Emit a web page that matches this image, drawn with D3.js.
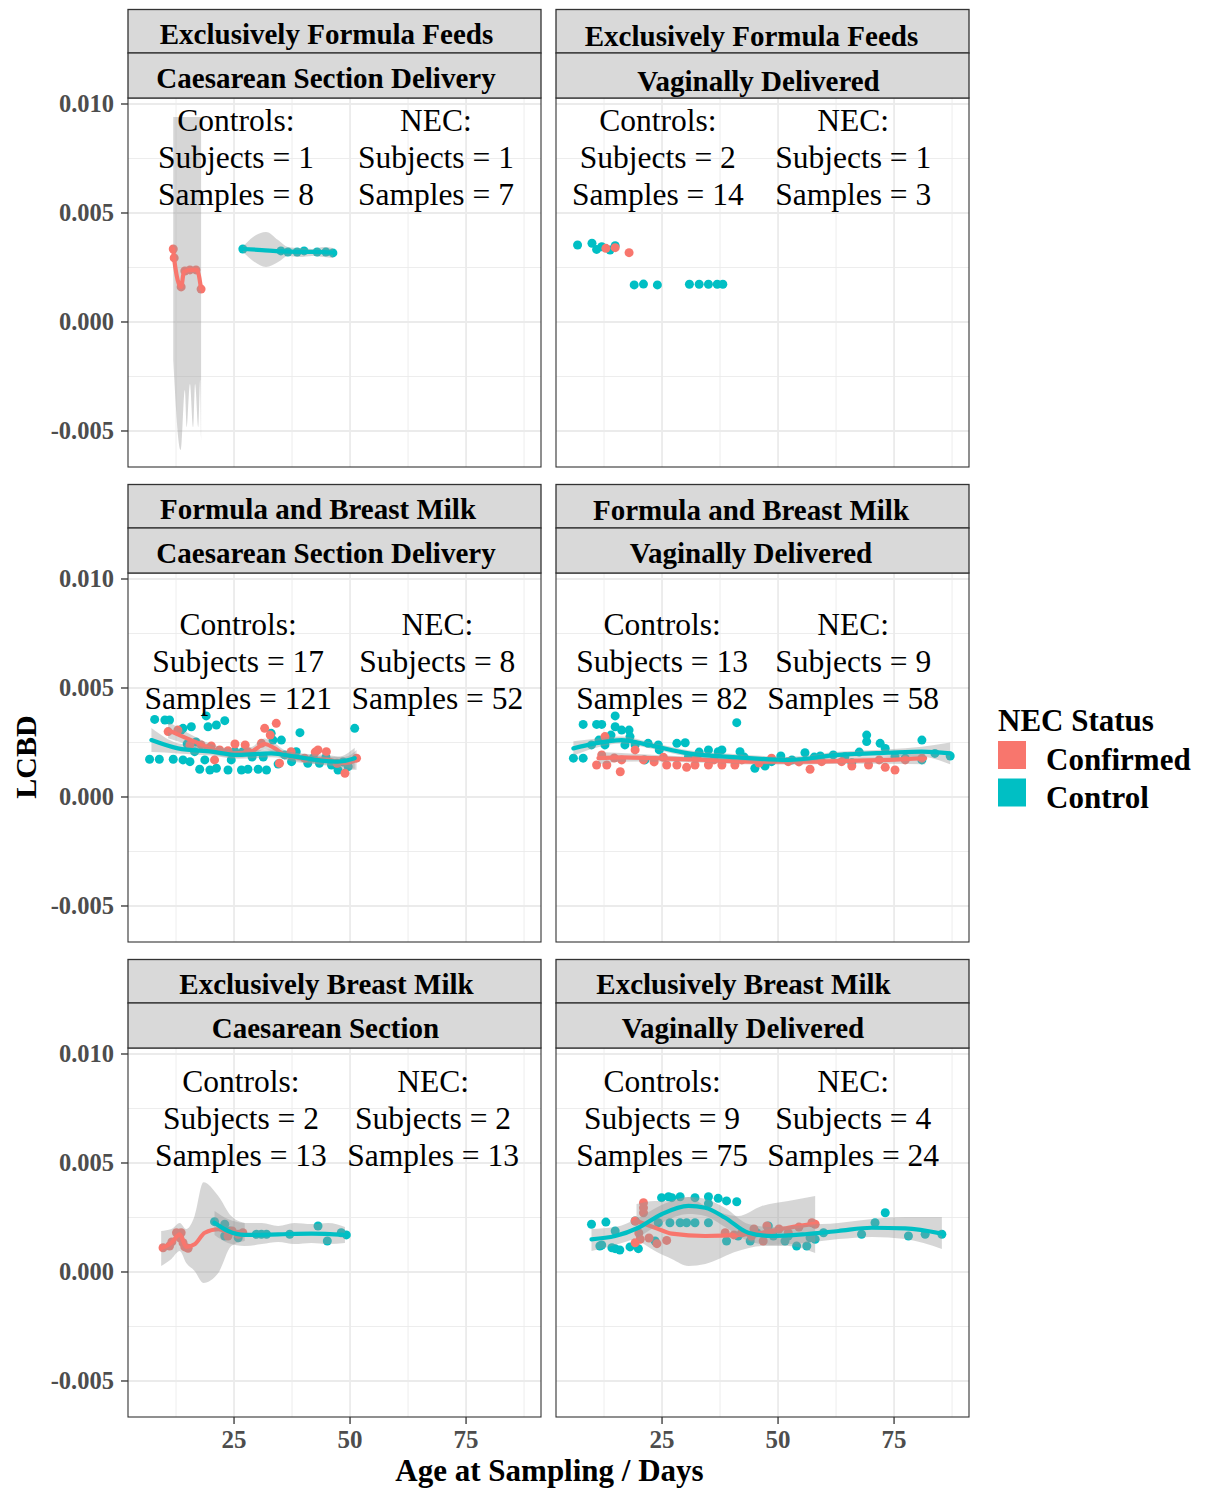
<!DOCTYPE html>
<html><head><meta charset="utf-8">
<script src="https://cdn.jsdelivr.net/npm/d3@7"></script>
<style>body{margin:0;background:#fff} text{font-family:"Liberation Serif","Times New Roman",serif}</style>
</head><body><svg id="c" width="1205" height="1490"></svg>
<script>
// ---------------- DATA ----------------
const feedTypes = ["Exclusively Formula Feeds","Formula and Breast Milk","Exclusively Breast Milk"];
const deliveryLabels = [["Caesarean Section Delivery","Vaginally Delivered"],["Caesarean Section Delivery","Vaginally Delivered"],["Caesarean Section","Vaginally Delivered"]];
const statusLabels = ["Confirmed","Control"];
const controlSubjects = [1,2,17,13,2,9];
const controlSamples  = [8,14,121,82,13,75];
const necSubjects     = [1,1,8,9,2,4];
const necSamples      = [7,3,52,58,13,24];
const xTicks = [25,50,75];
const yTicks = [-0.005,0,0.005,0.010];
const yTickLabels = ["-0.005","0.000","0.005","0.010"];

// Panel 1: Exclusively Formula Feeds / Caesarean
const pts1Nec = [[11.9,.00335],[12.1,.00294],[13.6,.00161],[14.4,.00234],[15.5,.00239],[16.8,.00239],[17.9,.00151]];
const pts1Ctrl = [[26.9,.00335],[35.1,.00326],[36.6,.00321],[38.6,.00321],[40.1,.00326],[42.9,.00321],[44.8,.00321],[46.3,.00317]];
const fit1Nec = [[11.9,.00335],[12.1,.00289],[13.6,.00161],[14.2,.00229],[15.5,.00239],[17.0,.00239],[17.9,.00151]];
const band1Nec = [[11.9,-.00174,.0094],[13.5,-.00587,.0094],[14.4,-.00312,.0094],[14.8,-.00482,.0094],[15.5,-.00284,.0094],[16.2,-.00482,.0094],[16.6,-.00284,.0094],[17.3,-.00482,.0094],[17.7,-.00266,.0094],[17.9,-.00541,.0094]];
const fit1Ctrl = [[26.9,.00335],[31.0,.00330],[35.1,.00324],[38.6,.00322],[42.9,.00322],[46.3,.00318]];
const band1Ctrl = [[26.9,.00322,.00345],[29.1,.00280,.00390],[31.9,.00252,.00413],[34.5,.00275,.00376],[36.6,.00303,.00344],[39.2,.00298,.00339],[41.8,.00303,.00335],[44.4,.00298,.00344],[46.3,.00294,.00339]];

// Panel 2: Exclusively Formula Feeds / Vaginal
const pts2Ctrl = [[6.8,.00353],[9.9,.00361],[10.9,.00333],[12.0,.00345],[13.8,.00330],[14.9,.00350],[19.0,.00170],[21.0,.00174],[24.0,.00170],[30.9,.00173],[33.0,.00173],[35.0,.00173],[36.9,.00173],[38.1,.00173]];
const pts2Nec = [[12.9,.00338],[14.9,.00341],[17.9,.00318]];

// Panel 3: Formula and Breast Milk / Caesarean
const pts3Ctrl = [[7.9,.00356],[10.1,.00353],[11.1,.00353],[19.0,.00372],[23.0,.00350],[21.2,.00330],[19.4,.00322],[15.8,.00322],[14.0,.00315],[13.6,.00307],[6.8,.00173],[8.9,.00173],[11.9,.00173],[14.0,.00170],[15.5,.00162],[17.6,.00127],[19.8,.00124],[21.2,.00132],[18.7,.00170],[23.7,.00124],[24.4,.00170],[26.6,.00124],[28.0,.00127],[26.9,.00208],[25.2,.00208],[30.2,.00127],[32.0,.00124],[33.4,.00261],[35.2,.00261],[33.0,.00292],[39.2,.00295],[37.4,.00162],[35.9,.00193],[40.9,.00155],[43.4,.00155],[46.0,.00147],[47.4,.00124],[51.0,.00315],[49.6,.00139],[38.4,.00208],[16.5,.00208],[23.7,.00208],[14.9,.00243],[16.8,.00252],[28.9,.00183],[31.3,.00183],[42.1,.00179],[44.8,.00183],[48.5,.00161],[34.5,.00151]];
const pts3Nec = [[10.8,.00300],[12.9,.00307],[17.9,.00239],[20.1,.00234],[21.9,.00216],[25.2,.00243],[31.6,.00315],[34.1,.00338],[34.8,.00155],[20.8,.00170],[43.1,.00216],[44.9,.00208],[48.9,.00109],[51.4,.00178],[47.2,.00155],[30.9,.00246],[28.0,.00208],[23.7,.00212],[19.4,.00223],[40.2,.00178],[37.3,.00208],[15.5,.00239],[27.4,.00239],[32.8,.00284],[42.5,.00206]];
const fit3Nec = [[10.8,.00307],[16.5,.00254],[20.8,.00216],[25.1,.00200],[28.7,.00208],[31.6,.00243],[33.8,.00223],[35.9,.00193],[39.5,.00178],[45.3,.00170],[48.9,.00155],[51.4,.00170]];
const band3Nec = [[10.8,.00270,.00345],[16.5,.00230,.00278],[20.8,.00195,.00237],[25.1,.00180,.00220],[28.7,.00187,.00229],[31.6,.00218,.00268],[33.8,.00200,.00246],[35.9,.00172,.00214],[39.5,.00157,.00199],[45.3,.00148,.00192],[48.9,.00126,.00184],[51.4,.00125,.00215]];
const fit3Ctrl = [[7.2,.00261],[12.9,.00223],[20.1,.00208],[25.9,.00193],[33.0,.00200],[38.1,.00185],[43.8,.00167],[47.4,.00162],[51.0,.00178]];
const band3Ctrl = [[7.2,.00206,.00316],[12.9,.00200,.00246],[20.1,.00190,.00226],[25.9,.00175,.00211],[33.0,.00182,.00218],[38.1,.00167,.00203],[43.8,.00147,.00187],[47.4,.00140,.00184],[51.0,.00130,.00226]];

// Panel 4: Formula and Breast Milk / Vaginal
const pts4Ctrl = [[5.9,.00178],[8.0,.00178],[8.0,.00333],[10.9,.00333],[12.0,.00333],[14.9,.00372],[14.9,.00322],[16.3,.00307],[17.9,.00307],[18.1,.00277],[9.8,.00239],[12.7,.00239],[17.0,.00239],[19.2,.00239],[21.3,.00170],[22.0,.00246],[24.2,.00239],[28.2,.00246],[30.0,.00249],[30.7,.00185],[35.0,.00216],[37.1,.00208],[37.9,.00216],[41.1,.00341],[41.8,.00208],[45.0,.00132],[47.2,.00142],[48.6,.00162],[53.0,.00170],[55.8,.00203],[59.1,.00188],[61.9,.00193],[64.4,.00185],[65.9,.00157],[69.1,.00284],[69.1,.00254],[72.0,.00246],[73.1,.00223],[81.0,.00261],[81.0,.00170],[83.8,.00200],[87.1,.00188],[77.4,.00178],[75.2,.00185],[11.4,.00261],[14.0,.00284],[24.4,.00216],[33.0,.00206],[42.7,.00183],[50.6,.00188],[57.8,.00183],[67.5,.00206]];
const pts4Nec = [[10.9,.00147],[12.7,.00277],[12.0,.00193],[13.1,.00147],[16.0,.00116],[16.3,.00170],[19.2,.00216],[21.0,.00170],[26.0,.00147],[28.2,.00147],[30.3,.00136],[32.1,.00147],[35.0,.00147],[37.9,.00147],[40.7,.00147],[48.6,.00178],[56.9,.00127],[59.4,.00162],[65.9,.00142],[69.5,.00147],[73.1,.00136],[75.2,.00124],[77.4,.00170],[81.0,.00178],[25.3,.00182],[32.5,.00182],[42.2,.00170],[52.2,.00162],[63.7,.00162],[14.7,.00179],[23.3,.00161],[36.2,.00170],[45.9,.00156],[54.5,.00161],[71.8,.00170]];
const fit4Ctrl = [[5.9,.00223],[10.6,.00246],[16.3,.00261],[22.0,.00239],[30.7,.00200],[41.4,.00182],[52.2,.00170],[63.0,.00193],[73.8,.00203],[81.0,.00208],[87.1,.00200]];
const band4Ctrl = [[5.9,.00190,.00256],[10.6,.00225,.00267],[16.3,.00245,.00277],[22.0,.00225,.00253],[30.7,.00186,.00214],[41.4,.00168,.00196],[52.2,.00156,.00184],[63.0,.00179,.00207],[73.8,.00187,.00219],[81.0,.00185,.00231],[87.1,.00150,.00250]];
const fit4Nec = [[11.3,.00178],[16.3,.00182],[23.5,.00178],[34.3,.00170],[45.0,.00162],[55.8,.00162],[66.6,.00167],[73.8,.00170],[81.7,.00178]];
const band4Nec = [[11.3,.00150,.00206],[16.3,.00162,.00202],[23.5,.00163,.00193],[34.3,.00157,.00183],[45.0,.00149,.00175],[55.8,.00149,.00175],[66.6,.00152,.00182],[73.8,.00152,.00188],[81.7,.00150,.00206]];

// Panel 5: Exclusively Breast Milk / Caesarean
const pts5Nec = [[9.7,.00111],[11.1,.00119],[12.6,.00180],[13.6,.00180],[13.3,.00157],[15.1,.00109],[14.0,.00134],[23.7,.00165],[25.9,.00173],[26.9,.00180],[11.6,.00138],[14.4,.00115],[24.6,.00188]];
const pts5Ctrl = [[20.8,.00231],[23.0,.00219],[23.0,.00165],[25.9,.00157],[29.8,.00173],[30.9,.00173],[32.0,.00173],[37.0,.00173],[43.1,.00211],[45.1,.00142],[48.1,.00180],[49.2,.00170],[24.1,.00188]];
const fit5Nec = [[9.3,.00109],[11.5,.00134],[13.3,.00173],[14.7,.00115],[16.5,.00127],[18.7,.00180],[21.6,.00196],[24.4,.00180],[27.3,.00180]];
const band5Nec = [[9.3,.00028,.00188],[11.5,.00060,.00197],[13.3,.00096,.00225],[14.7,.00041,.00197],[16.5,.00005,.00257],[18.4,-.00050,.00412],[21.6,-.00005,.00349],[24.4,.00119,.00257],[27.3,.00142,.00225]];
const fit5Ctrl = [[20.8,.00226],[23.7,.00188],[27.3,.00170],[34.5,.00173],[41.7,.00176],[48.9,.00170]];
const band5Ctrl = [[20.8,.00170,.00280],[23.7,.00133,.00243],[27.3,.00119,.00225],[31.0,.00128,.00225],[34.5,.00137,.00211],[38.0,.00128,.00225],[41.7,.00133,.00220],[45.3,.00128,.00225],[48.9,.00133,.00206]];

// Panel 6: Exclusively Breast Milk / Vaginal
const pts6Ctrl = [[9.8,.00219],[12.9,.00229],[12.0,.00124],[14.9,.00188],[14.9,.00107],[15.9,.00101],[18.1,.00115],[19.9,.00107],[19.2,.00234],[24.9,.00341],[26.4,.00345],[27.1,.00341],[28.9,.00345],[32.1,.00341],[35.0,.00345],[37.1,.00338],[38.9,.00326],[41.1,.00322],[35.0,.00313],[26.7,.00226],[28.9,.00226],[30.3,.00226],[32.1,.00226],[35.0,.00226],[24.2,.00226],[38.9,.00142],[41.4,.00165],[44.0,.00142],[47.9,.00211],[49.0,.00165],[51.5,.00142],[52.2,.00165],[54.0,.00119],[56.2,.00119],[56.9,.00157],[58.0,.00150],[59.8,.00180],[68.0,.00173],[70.9,.00226],[73.1,.00272],[78.1,.00165],[81.7,.00173],[85.3,.00173],[11.6,.00119],[14.2,.00111],[23.5,.00142],[45.4,.00180]];
const pts6Nec = [[21.0,.00318],[21.0,.00295],[21.0,.00272],[19.2,.00234],[20.3,.00150],[19.2,.00134],[23.9,.00130],[26.0,.00145],[38.6,.00180],[44.3,.00165],[46.8,.00142],[47.6,.00211],[52.2,.00180],[57.3,.00226],[58.0,.00219],[42.2,.00180],[48.6,.00180],[20.0,.00179],[50.2,.00197],[54.5,.00206],[40.5,.00170],[22.2,.00156],[44.8,.00197]];
const fit6Ctrl = [[9.8,.00150],[14.9,.00165],[19.9,.00203],[24.9,.00265],[30.7,.00303],[34.3,.00295],[38.6,.00249],[43.6,.00180],[48.6,.00165],[55.8,.00173],[63.0,.00188],[70.2,.00203],[77.4,.00200],[85.3,.00176]];
const band6Ctrl = [[9.8,.00096,.00197],[14.9,.00124,.00206],[19.9,.00161,.00248],[24.9,.00225,.00307],[30.7,.00266,.00344],[34.3,.00257,.00335],[38.6,.00206,.00294],[43.6,.00142,.00220],[48.6,.00124,.00206],[55.8,.00133,.00216],[63.0,.00151,.00225],[70.2,.00161,.00243],[77.4,.00151,.00252],[85.3,.00106,.00252]];
const fit6Nec = [[19.5,.00234],[23.5,.00203],[27.1,.00176],[34.3,.00165],[41.4,.00170],[46.5,.00180],[52.2,.00203],[58.0,.00222]];
const band6Nec = [[19.5,.00151,.00312],[23.5,.00096,.00326],[27.1,.00060,.00326],[30.7,.00028,.00344],[34.3,.00037,.00303],[41.4,.00096,.00257],[46.5,.00119,.00303],[52.2,.00119,.00326],[58.0,.00087,.00349]];

// ---------------- LAYOUT ----------------
const colors = {Nec:"#F8766D", Ctrl:"#00BFC4"};
const panelLeft = [128, 556], panelTop = [98, 573, 1048];
const PW = 413, PH = 369;
const stripDx = [[-8,-8.5],[-11,-4],[-16.5,-8.5],[-11.5,-11.5],[-8,-9],[-19,-19.5]];
const stripDy = [[0,0],[2,3],[0,0],[1,0],[0,0],[0,0]];
const annoLayout = [
  {cx:25.4, nx:68.5, y:.00706},{cx:24.1, nx:66.2, y:.00706},
  {cx:25.9, nx:68.8, y:.00573},{cx:25.0, nx:66.2, y:.00573},
  {cx:26.5, nx:67.9, y:.00656},{cx:25.0, nx:66.2, y:.00656}];
const panelData = [
  {ctrl:pts1Ctrl, nec:pts1Nec, fc:fit1Ctrl, bc:band1Ctrl, fn:fit1Nec, bn:band1Nec},
  {ctrl:pts2Ctrl, nec:pts2Nec},
  {ctrl:pts3Ctrl, nec:pts3Nec, fc:fit3Ctrl, bc:band3Ctrl, fn:fit3Nec, bn:band3Nec},
  {ctrl:pts4Ctrl, nec:pts4Nec, fc:fit4Ctrl, bc:band4Ctrl, fn:fit4Nec, bn:band4Nec},
  {ctrl:pts5Ctrl, nec:pts5Nec, fc:fit5Ctrl, bc:band5Ctrl, fn:fit5Nec, bn:band5Nec},
  {ctrl:pts6Ctrl, nec:pts6Nec, fc:fit6Ctrl, bc:band6Ctrl, fn:fit6Nec, bn:band6Nec}];

const svg = d3.select("#c");
svg.append("rect").attr("width",1205).attr("height",1490).attr("fill","#fff");
const x = d3.scaleLinear().domain([2.15, 91.15]).range([0, PW]);
const y = d3.scaleLinear().domain([-0.006652, 0.010275]).range([PH, 0]);
const line = d3.line().x(d=>x(d[0])).y(d=>y(d[1])).curve(d3.curveMonotoneX);
const area = d3.area().x(d=>x(d[0])).y0(d=>y(d[1])).y1(d=>y(d[2])).curve(d3.curveMonotoneX);
const defs = svg.append("defs");

panelData.forEach((pd, i) => {
  const r = Math.floor(i/2), c = i%2;
  const L = panelLeft[c], T = panelTop[r];
  const g = svg.append("g").attr("transform",`translate(${L},${T})`);
  defs.append("clipPath").attr("id","clip"+i).append("rect").attr("width",PW).attr("height",PH);
  g.append("rect").attr("width",PW).attr("height",PH).attr("fill","#fff");
  const grid = g.append("g");
  [12.5,37.5,62.5,87.5].forEach(v=>grid.append("line").attr("x1",x(v)).attr("x2",x(v)).attr("y1",0).attr("y2",PH).attr("stroke","#ebebeb").attr("stroke-width",0.9));
  [-0.0025,0.0025,0.0075].forEach(v=>grid.append("line").attr("y1",y(v)).attr("y2",y(v)).attr("x1",0).attr("x2",PW).attr("stroke","#ebebeb").attr("stroke-width",0.9));
  xTicks.forEach(v=>grid.append("line").attr("x1",x(v)).attr("x2",x(v)).attr("y1",0).attr("y2",PH).attr("stroke","#ebebeb").attr("stroke-width",1.8));
  yTicks.forEach(v=>grid.append("line").attr("y1",y(v)).attr("y2",y(v)).attr("x1",0).attr("x2",PW).attr("stroke","#ebebeb").attr("stroke-width",1.8));
  const body = g.append("g").attr("clip-path",`url(#clip${i})`);
  body.selectAll(".pc").data(pd.ctrl).join("circle").attr("cx",d=>x(d[0])).attr("cy",d=>y(d[1])).attr("r",4.5).attr("fill",colors.Ctrl);
  body.selectAll(".pn").data(pd.nec).join("circle").attr("cx",d=>x(d[0])).attr("cy",d=>y(d[1])).attr("r",4.5).attr("fill",colors.Nec);
  if (pd.fn) {
    body.append("path").attr("d",area(pd.bn)).attr("fill","#999999").attr("fill-opacity",0.4);
    body.append("path").attr("d",line(pd.fn)).attr("fill","none").attr("stroke",colors.Nec).attr("stroke-width",4.2).attr("stroke-linejoin","round").attr("stroke-linecap","round");
    body.append("path").attr("d",area(pd.bc)).attr("fill","#999999").attr("fill-opacity",0.4);
    body.append("path").attr("d",line(pd.fc)).attr("fill","none").attr("stroke",colors.Ctrl).attr("stroke-width",4.2).attr("stroke-linejoin","round").attr("stroke-linecap","round");
  }
  g.append("rect").attr("width",PW).attr("height",PH).attr("fill","none").attr("stroke","#333").attr("stroke-width",1.1);
  // annotations
  const a = annoLayout[i];
  const addBlock = (cx, lines) => {
    const t = g.append("text").attr("text-anchor","middle").attr("font-size",31.5).attr("fill","#000");
    lines.forEach((s,k)=>t.append("tspan").attr("x",x(cx)).attr("y",y(a.y)+(k-1)*37).text(s));
  };
  addBlock(a.cx, ["Controls:", `Subjects = ${controlSubjects[i]}`, `Samples = ${controlSamples[i]}`]);
  addBlock(a.nx, ["NEC:", `Subjects = ${necSubjects[i]}`, `Samples = ${necSamples[i]}`]);
  // strips
  const s1 = T-88.5, s2 = T-45;
  svg.append("rect").attr("x",L).attr("y",s1).attr("width",PW).attr("height",43.5).attr("fill","#d9d9d9").attr("stroke","#333").attr("stroke-width",1.3);
  svg.append("rect").attr("x",L).attr("y",s2).attr("width",PW).attr("height",45).attr("fill","#d9d9d9").attr("stroke","#333").attr("stroke-width",1.3);
  svg.append("text").attr("x",L+PW/2+stripDx[i][0]).attr("y",T-54+stripDy[i][0]).attr("text-anchor","middle").attr("font-size",29).attr("font-weight","bold").text(feedTypes[r]);
  svg.append("text").attr("x",L+PW/2+stripDx[i][1]).attr("y",T-10+stripDy[i][1]).attr("text-anchor","middle").attr("font-size",29).attr("font-weight","bold").text(deliveryLabels[r][c]);
  // axes
  if (c===0) {
    const ya = svg.append("g").attr("transform",`translate(${L},${T})`);
    yTicks.forEach((v,k)=>{
      ya.append("line").attr("x1",-7).attr("x2",0).attr("y1",y(v)).attr("y2",y(v)).attr("stroke","#333").attr("stroke-width",1.3);
      ya.append("text").attr("x",-14).attr("y",y(v)).attr("dy","0.34em").attr("text-anchor","end").attr("font-size",24.5).attr("font-weight","bold").attr("fill","#4d4d4d").text(yTickLabels[k]);
    });
  }
  if (r===2) {
    const xa = svg.append("g").attr("transform",`translate(${L},${T+PH})`);
    xTicks.forEach(v=>{
      xa.append("line").attr("x1",x(v)).attr("x2",x(v)).attr("y1",0).attr("y2",7).attr("stroke","#333").attr("stroke-width",1.3);
      xa.append("text").attr("x",x(v)).attr("y",31).attr("text-anchor","middle").attr("font-size",25).attr("font-weight","bold").attr("fill","#4d4d4d").text(v);
    });
  }
});

// axis titles
svg.append("text").attr("x",549.5).attr("y",1481).attr("text-anchor","middle").attr("font-size",31).attr("font-weight","bold").text("Age at Sampling / Days");
svg.append("text").attr("transform","translate(36,757) rotate(-90)").attr("text-anchor","middle").attr("font-size",30).attr("font-weight","bold").text("LCBD");

// legend
const lg = svg.append("g");
lg.append("text").attr("x",998).attr("y",731).attr("font-size",31).attr("font-weight","bold").text("NEC Status");
[colors.Nec, colors.Ctrl].forEach((col,k)=>{
  lg.append("rect").attr("x",998).attr("y",741+k*37.5).attr("width",28).attr("height",28).attr("fill",col);
  lg.append("text").attr("x",1046).attr("y",770+k*38).attr("font-size",31).attr("font-weight","bold").text(statusLabels[k]);
});
</script></body></html>
